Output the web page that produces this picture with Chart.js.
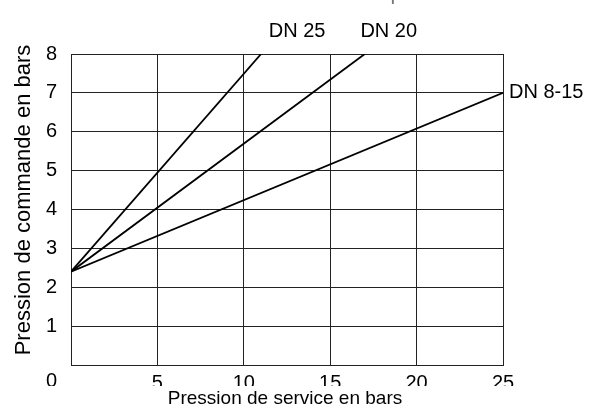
<!DOCTYPE html>
<html>
<head>
<meta charset="utf-8">
<script src="https://cdn.jsdelivr.net/npm/chart.js@4/dist/chart.umd.min.js"></script>
<style>
  html, body { margin: 0; padding: 0; background: #fff; }
  #wrap { width: 598px; height: 414px; }
</style>
</head>
<body>
<div id="wrap"><canvas id="chart" width="598" height="414"></canvas></div>
<script>
// Pression de service (bar) -> pression de commande minimale (bar), par diamètre nominal
const seriesNames = ['DN 8-15', 'DN 20', 'DN 25'];
const serviceDN815 = [0, 25];
const commandeDN815 = [2.4, 7];
const serviceDN20 = [0, 17];
const commandeDN20 = [2.4, 8];
const serviceDN25 = [0, 11];
const commandeDN25 = [2.4, 8];
const xTickValues = [0, 5, 10, 15, 20, 25];
const yTickValues = [0, 1, 2, 3, 4, 5, 6, 7, 8];

const FONT = '"Liberation Sans", Arial, Helvetica, sans-serif';
const INK = '#000';
const GRID = '#222';

const toPoints = (xs, ys) => xs.map((x, i) => ({ x: x, y: ys[i] }));

const seriesData = [
  toPoints(serviceDN815, commandeDN815),
  toPoints(serviceDN20, commandeDN20),
  toPoints(serviceDN25, commandeDN25)
];

// where each curve's name sits relative to its last point
const nameStyles = [
  { dx: 6, dy: 0, align: 'left' },
  { dx: 24, dy: null, align: 'center' },
  { dx: 36, dy: null, align: 'center' }
];

const datasets = seriesNames.map((name, i) => ({
  label: name,
  data: seriesData[i],
  showLine: true,
  borderColor: INK,
  borderWidth: 1.8,
  pointRadius: 0,
  pointHoverRadius: 0,
  fill: false,
  tension: 0
}));

// curve names, axis titles and the page heading
const annotations = {
  id: 'annotations',
  afterDraw(chart) {
    const ctx = chart.ctx;
    const xs = chart.scales.x, ys = chart.scales.y;
    const area = chart.chartArea;
    ctx.save();
    ctx.fillStyle = INK;
    ctx.font = '20px ' + FONT;
    chart.data.datasets.forEach((ds, i) => {
      const last = ds.data[ds.data.length - 1];
      const st = nameStyles[i];
      const px = xs.getPixelForValue(last.x) + st.dx;
      ctx.textAlign = st.align;
      if (st.dy === null) {
        ctx.textBaseline = 'alphabetic';
        ctx.fillText(ds.label, px, area.top - 17);
      } else {
        ctx.textBaseline = 'middle';
        ctx.fillText(ds.label, px, ys.getPixelForValue(last.y) + st.dy);
      }
    });

    // band under the tick row, then the horizontal axis title
    ctx.fillStyle = '#fff';
    ctx.fillRect(0, 386, chart.width, chart.height - 386);
    ctx.fillStyle = INK;
    ctx.textAlign = 'center';
    ctx.textBaseline = 'alphabetic';
    ctx.font = '19px ' + FONT;
    ctx.fillText('Pression de service en bars', 285, 404);

    // vertical axis title
    ctx.save();
    ctx.translate(24, 200);
    ctx.rotate(-Math.PI / 2);
    ctx.textAlign = 'center';
    ctx.textBaseline = 'middle';
    ctx.font = '22px ' + FONT;
    ctx.fillText('Pression de commande en bars', 0, 0);
    ctx.restore();

    // heading running off the top edge
    ctx.textAlign = 'left';
    ctx.textBaseline = 'alphabetic';
    ctx.font = '21px ' + FONT;
    ctx.fillStyle = '#777';
    ctx.fillText('Pression de commande en fonction de la pression de service', 4, -0.5);
    ctx.restore();
  }
};

new Chart(document.getElementById('chart'), {
  type: 'scatter',
  data: { datasets: datasets },
  options: {
    responsive: false,
    animation: false,
    events: [],
    layout: { padding: { top: 54, right: 95, left: 0, bottom: 0 } },
    plugins: {
      legend: { display: false },
      tooltip: { enabled: false },
      title: { display: false }
    },
    scales: {
      x: {
        type: 'linear',
        min: xTickValues[0],
        max: xTickValues[xTickValues.length - 1],
        afterBuildTicks(scale) { scale.ticks = xTickValues.map(v => ({ value: v })); },
        afterFit(scale) { scale.height = 49; },
        ticks: {
          color: INK,
          padding: 6,
          maxRotation: 0,
          autoSkip: false,
          font: { family: FONT, size: 20 },
          callback: v => (v === 0 ? '' : String(v))
        },
        grid: { color: GRID, lineWidth: 1, drawTicks: false },
        border: { display: true, color: GRID, width: 1 }
      },
      y: {
        type: 'linear',
        min: yTickValues[0],
        max: yTickValues[yTickValues.length - 1],
        afterBuildTicks(scale) { scale.ticks = yTickValues.map(v => ({ value: v })); },
        afterFit(scale) { scale.width = 71; },
        ticks: {
          color: INK,
          padding: 14,
          autoSkip: false,
          font: ctx => ({
            family: FONT,
            size: 20,
            lineHeight: (ctx.tick && ctx.tick.value === 0) ? 1.65 : 1.2
          }),
          callback: v => (v === 0 ? ['', '0'] : String(v))
        },
        grid: { color: GRID, lineWidth: 1, drawTicks: false },
        border: { display: true, color: GRID, width: 1 },
        title: { display: false }
      }
    }
  },
  plugins: [annotations]
});
</script>
</body>
</html>
